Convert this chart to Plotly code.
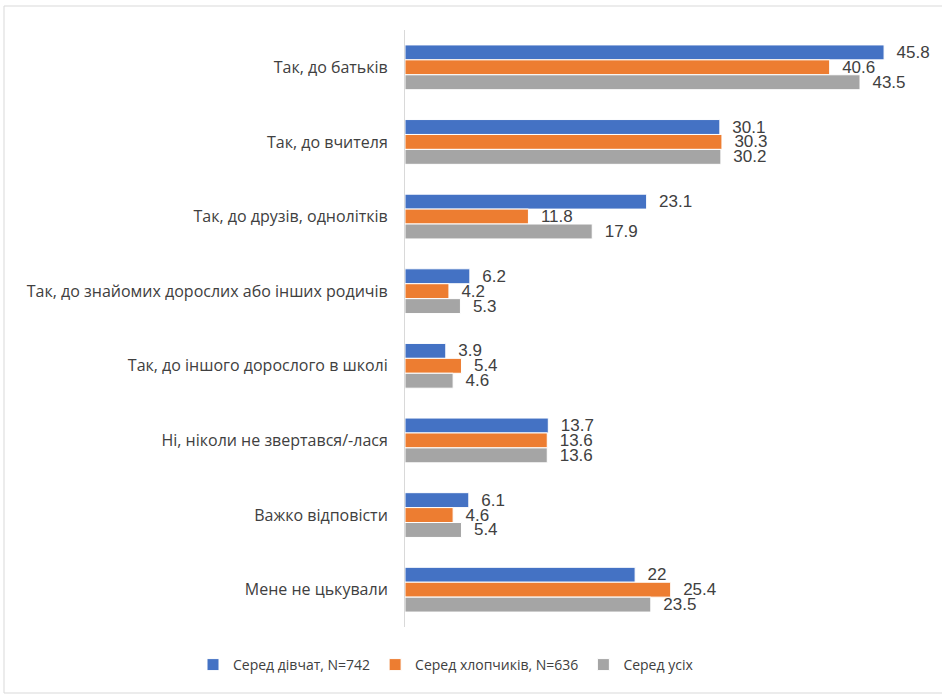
import plotly.graph_objects as go

categories = [
    "Так, до батьків",
    "Так, до вчителя",
    "Так, до друзів, однолітків",
    "Так, до знайомих дорослих або інших родичів",
    "Так, до іншого дорослого в школі",
    "Ні, ніколи не звертався/-лася",
    "Важко відповісти",
    "Мене не цькували",
]
girls = [45.8, 30.1, 23.1, 6.2, 3.9, 13.7, 6.1, 22]
boys = [40.6, 30.3, 11.8, 4.2, 5.4, 13.6, 4.6, 25.4]
total = [43.5, 30.2, 17.9, 5.3, 4.6, 13.6, 5.4, 23.5]
series_names = ["Серед дівчат, N=742", "Серед хлопчиків, N=636", "Серед усіх"]
colors = ["#4472C4", "#ED7D31", "#A5A5A5"]

FONT = "Open Sans"
LABEL_FONT = "Liberation Sans"
TXT = "#404040"

fig = go.Figure()
for name, vals, col in zip(series_names, [girls, boys, total], colors):
    fig.add_trace(go.Bar(
        y=categories, x=vals, name=name, orientation="h",
        marker=dict(color=col, line=dict(color="white", width=1)),
        text=[f"\u00a0\u00a0{v:g}" for v in vals], textposition="outside",
        textfont=dict(family=LABEL_FONT, size=17, color=TXT),
        constraintext="none",
        cliponaxis=False,
    ))

L, R, T, B = 405, 14, 30, 68
W, H = 942, 695
pw, ph = W - L - R, H - T - B

def px_x(x):
    return (x - L) / pw

def px_y(y):
    return (H - B - y) / ph

fig.add_shape(type="rect", xref="paper", yref="paper",
              x0=px_x(4), x1=px_x(946), y0=px_y(693), y1=px_y(6),
              line=dict(color="#D9D9D9", width=1), layer="below")

fig.update_layout(
    width=W, height=H,
    margin=dict(l=L, r=R, t=T, b=B, autoexpand=False),
    paper_bgcolor="white", plot_bgcolor="white",
    barmode="group", bargap=0.4, bargroupgap=0,
    font=dict(family=FONT, size=16, color=TXT),
    xaxis=dict(range=[0, 50], showticklabels=False, showgrid=False,
               zeroline=False, showline=False, fixedrange=True),
    yaxis=dict(autorange="reversed", showline=True, linecolor="#D9D9D9",
               linewidth=1, ticks="", ticklen=0, showgrid=False,
               tickfont=dict(family=FONT, size=16, color=TXT),
               ticklabelstandoff=13, fixedrange=True),
    legend=dict(orientation="h", x=px_x(193), xanchor="left",
                y=px_y(665), yanchor="middle",
                font=dict(family=FONT, size=14, color=TXT),
                traceorder="normal", itemwidth=30),
    showlegend=True,
)

fig.write_html("out.html", config={"displayModeBar": False},
               post_script="document.body.style.margin='0';")
